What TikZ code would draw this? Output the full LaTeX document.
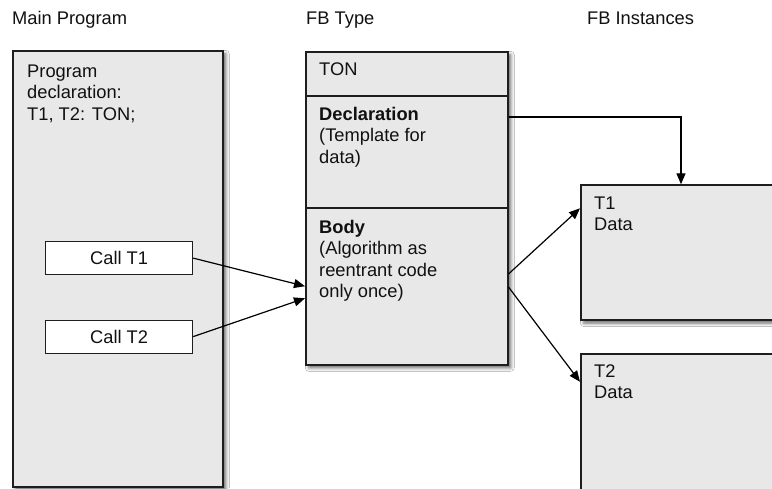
\documentclass[tikz,border=0pt]{standalone}
\usepackage{fontspec}
\setmainfont{Liberation Sans}
\usetikzlibrary{arrows.meta,shadows.blur,positioning}

\definecolor{panelfill}{HTML}{E8E8E8}
\definecolor{edgecol}{HTML}{1E1E1E}
\definecolor{inkcol}{HTML}{111111}

% left-aligned lines whose baseline is the first line's baseline
\newcommand{\txtlines}[1]{\begin{tabular}[t]{@{}l@{}}#1\end{tabular}}

\tikzset{
  panel/.style={draw=edgecol, line width=1.5pt, fill=panelfill, rectangle,
    inner sep=0pt, anchor=north west,
    blur shadow={shadow xshift=3pt, shadow yshift=-3pt,
                 shadow blur radius=3.5pt, shadow opacity=60}},
  part/.style={draw=edgecol, line width=1.5pt, fill=panelfill, rectangle,
    inner sep=0pt, anchor=north west},
  callbox/.style={draw=edgecol, line width=1.2pt, fill=white, rectangle,
    inner sep=0pt, anchor=north west, minimum width=147pt, minimum height=33pt,
    text=inkcol},
  label/.style={anchor=base west, inner sep=0pt, text=inkcol,
    font=\fontsize{18.3}{21.6}\selectfont},
  link/.style={draw=black, line width=1.2pt,
    -{Triangle[length=11pt,width=9pt]}}
}

\begin{document}
\begin{tikzpicture}[x=1pt,y=-1pt]
  \clip (0,0) rectangle (772,488);
  \fill[white] (0,0) rectangle (772,488);

  % column headings
  \node[label] (hmain) at (12,24.5) {Main Program};
  \node[label] (htype) at (306,24.5) {FB Type};
  \node[label] (hinst) at (587,24.5) {FB Instances};

  % main program panel
  \node[panel, minimum width=210pt, minimum height=436pt] (main) at (12,50) {};
  \node[label] (maintext) at (27,77) {\txtlines{Program\\declaration:\\T1, T2: TON;}};
  \node[callbox, font=\fontsize{18.3}{21.6}\selectfont] (callA) at (45,241) {Call T1};
  \node[callbox, font=\fontsize{18.3}{21.6}\selectfont] (callB) at (45,319.5) {Call T2};

  % function block type, split into three parts
  \node[panel, minimum width=202pt, minimum height=313pt] (fb) at (305,51) {};
  \node[part, minimum width=202pt, minimum height=44pt] (fbton) at (305,51) {};
  \node[part, minimum width=202pt, minimum height=112pt] (fbdecl) at (305,95) {};
  \node[part, minimum width=202pt, minimum height=157pt] (fbbody) at (305,207) {};
  \node[label] (tontext) at (319,75) {TON};
  \node[label] (decltext) at (319,120) {\txtlines{\textbf{Declaration}\\(Template for\\data)}};
  \node[label] (bodytext) at (319,233) {\txtlines{\textbf{Body}\\(Algorithm as\\reentrant code\\only once)}};

  % instance data blocks
  \node[panel, minimum width=230pt, minimum height=135pt] (inst1) at (580,184.3) {};
  \node[panel, minimum width=230pt, minimum height=170pt] (inst2) at (580,353.3) {};
  \node[label] (inst1text) at (594,209.3) {\txtlines{T1\\Data}};
  \node[label] (inst2text) at (594,377.3) {\txtlines{T2\\Data}};

  % connectors
  \coordinate (declout) at ([yshift=-22pt]fbdecl.north east);
  \coordinate (declin) at ([xshift=101pt]inst1.north west);
  \draw[link] (declout) -| (declin);

  \draw[link] (callA.east) -- (fbbody.west);
  \draw[link] (callB.east) -- ([yshift=-12pt]fbbody.west);

  \draw[link] ([yshift=-67pt]fbbody.north east) -- ([yshift=-24pt]inst1.north west);
  \draw[link] ([yshift=-80pt]fbbody.north east) -- ([yshift=-28.5pt]inst2.north west);
\end{tikzpicture}
\end{document}
